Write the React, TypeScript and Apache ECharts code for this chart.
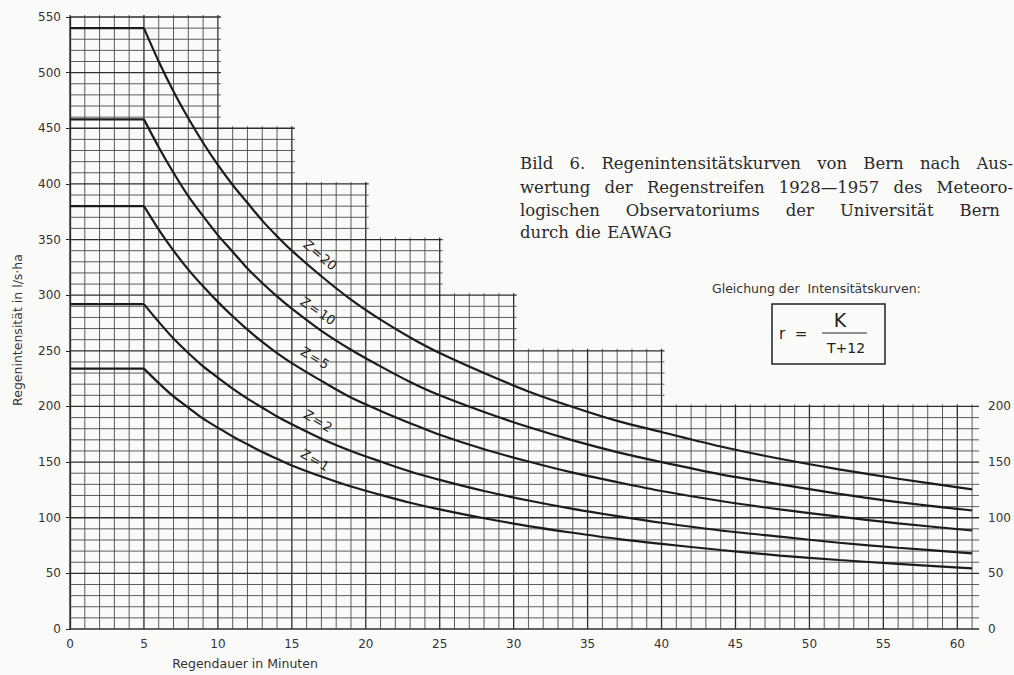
import React, { useEffect, useRef } from "react";
import * as echarts from "echarts";

// Regendauer (min) at which the curves were read
const minutes = [0, 5, 6, 7, 8, 9, 10, 11, 12, 13, 14, 15, 17, 19, 21, 23, 25, 28, 31, 34, 37, 40, 44, 48, 52, 56, 61];
// Regenintensität (l/s·ha) for each return period z
const z20 = [540, 540, 510, 483, 459, 437, 417, 399, 383, 367, 353, 340, 317, 296, 278, 262, 248, 230, 213.5, 199.5, 187, 177, 164, 153, 143.5, 135, 125.5];
const z10 = [458, 458, 433, 410, 389, 371, 354, 339, 324, 311, 299, 288, 268, 251, 236, 222, 210, 195, 181.5, 169.5, 159, 150, 139, 130, 121.5, 114, 106.5];
const z5 = [380, 380, 359, 340, 323, 308, 294, 281, 269, 258, 248, 239, 223, 208, 196, 185, 174.5, 161.5, 150.5, 140.5, 132, 124, 115, 107.5, 101, 95, 88.5];
const z2 = [292, 292, 276, 261, 248, 236, 226, 216, 207, 199, 191, 184, 171, 160, 150.5, 141.5, 134, 124, 115.5, 108, 101.5, 95.5, 88.5, 83, 77.5, 73, 68];
const z1 = [234, 234, 221, 209, 199, 189, 181, 173, 166, 159, 153, 147, 137, 128, 120.5, 113.5, 107.5, 99.5, 92.5, 86.5, 81, 76.5, 71, 66, 62, 58.5, 54.5];

const curveNames = ["Z\u200A=\u200A20", "Z\u200A=\u200A10", "Z\u200A=\u200A5", "Z\u200A=\u200A2", "Z\u200A=\u200A1"];
const curves = [z20, z10, z5, z2, z1];

// stepped grid paper: [from, to] minutes and top value
const stepFrom = [0, 10, 15, 20, 25, 30, 40];
const stepTo = [10, 15, 20, 25, 30, 40, 61];
const stepTop = [550, 450, 400, 350, 300, 250, 200];

const xMax = 61;
const yMax = 550;
const rightTicks = [0, 50, 100, 150, 200];

const captionLines = [
  "Bild 6.  Regenintensitätskurven  von Bern nach Aus-",
  "wertung der Regenstreifen 1928—1957 des Meteoro-",
  "logischen Observatoriums der Universität Bern",
  "durch die EAWAG",
];

const PAPER = "#fafaf8";
const INK = "#1c1c1c";

function buildGrid() {
  const segs: number[][] = [];
  for (let m = 0; m <= xMax; m++) {
    let top = 0;
    stepFrom.forEach((f, i) => {
      if (m >= f && m <= stepTo[i]) top = Math.max(top, stepTop[i]);
    });
    segs.push([m, 0, m, top, m % 5 === 0 ? 1 : 0, 0]);
  }
  for (let v = 0; v <= yMax; v += 10) {
    let end = 0;
    stepTop.forEach((t, i) => {
      if (t >= v) end = Math.max(end, stepTo[i]);
    });
    segs.push([0, v, end, v, v % 50 === 0 ? 1 : 0, 1]);
  }
  return segs;
}

function captionGraphics() {
  const font = "16.5px 'DejaVu Serif'";
  const canvas = document.createElement("canvas");
  const ctx = canvas.getContext("2d")!;
  ctx.font = font;
  const left = 520;
  const rights = [1013, 1013, 1000, 0];
  const ys = [163, 187, 210, 232];
  const els: any[] = [];
  captionLines.forEach((line, li) => {
    const words = line.split(/\s+/);
    const widths = words.map((w) => ctx.measureText(w).width);
    const total = widths.reduce((a, b) => a + b, 0);
    let gap = ctx.measureText(" ").width * 1.2;
    if (rights[li] > 0 && words.length > 1) {
      gap = Math.max(3, (rights[li] - left - total) / (words.length - 1));
    }
    let x = left;
    words.forEach((w, wi) => {
      els.push({
        type: "text",
        x,
        y: ys[li],
        silent: true,
        style: {
          text: w,
          font,
          fill: "#2a2a2a",
          textVerticalAlign: "middle",
          textAlign: "left",
        },
      });
      x += widths[wi] + gap;
    });
  });
  return els;
}

export default function App() {
  const ref = useRef<HTMLDivElement>(null);
  useEffect(() => {
    document.body.style.margin = "0";
    const chart = echarts.init(ref.current!, null, { renderer: "svg" });
    const labelPos = [
      [320, 255, 40],
      [318, 311, 34],
      [315, 358, 31],
      [318, 421, 31],
      [315, 460, 30],
    ];
    const sans = "'DejaVu Sans'";
    const graphic: any[] = [
      ...captionGraphics(),
      {
        type: "text",
        x: 245,
        y: 663,
        silent: true,
        style: { text: "Regendauer in Minuten", font: `12.5px ${sans}`, fill: "#333", textAlign: "center", textVerticalAlign: "middle" },
      },
      {
        type: "text",
        x: 17,
        y: 330,
        rotation: Math.PI / 2,
        silent: true,
        style: { text: "Regenintensität in l/s·ha", font: `12.5px ${sans}`, fill: "#333", textAlign: "center", textVerticalAlign: "middle" },
      },
      {
        type: "text",
        x: 712,
        y: 288,
        silent: true,
        style: { text: "Gleichung der  Intensitätskurven:", font: `12.5px ${sans}`, fill: "#333", textAlign: "left", textVerticalAlign: "middle" },
      },
      {
        type: "rect",
        shape: { x: 772, y: 304, width: 113, height: 60 },
        silent: true,
        style: { fill: PAPER, stroke: "#222", lineWidth: 1.5 },
      },
      {
        type: "text",
        x: 779,
        y: 334,
        silent: true,
        style: { text: "r  =", font: `15px ${sans}`, fill: "#222", textAlign: "left", textVerticalAlign: "middle" },
      },
      {
        type: "text",
        x: 840,
        y: 320,
        silent: true,
        style: { text: "K", font: `19px ${sans}`, fill: "#222", textAlign: "center", textVerticalAlign: "middle" },
      },
      {
        type: "line",
        shape: { x1: 822, y1: 333, x2: 867, y2: 333 },
        silent: true,
        style: { stroke: "#222", lineWidth: 1.2 },
      },
      {
        type: "text",
        x: 846,
        y: 348,
        silent: true,
        style: { text: "T+12", font: `14px ${sans}`, fill: "#222", textAlign: "center", textVerticalAlign: "middle" },
      },
      ...curveNames.map((n, i) => ({
        type: "text",
        x: labelPos[i][0],
        y: labelPos[i][1],
        rotation: (-labelPos[i][2] * Math.PI) / 180,
        silent: true,
        z: 100,
        style: { text: n, font: `13px ${sans}`, fill: "#222", textAlign: "center", textVerticalAlign: "middle" },
      })),
    ];

    const curveSeries: any[] = [];
    curves.forEach((c, i) => {
      const pts = minutes.map((m, j) => [m, c[j]]);
      // flat part (T <= 5)
      curveSeries.push({
        type: "line",
        name: curveNames[i],
        z: 5,
        symbol: "none",
        smooth: false,
        lineStyle: { color: INK, width: 2.2 },
        data: pts.filter((p) => p[0] <= 5),
      });
      // decaying part (T >= 5)
      curveSeries.push({
        type: "line",
        name: curveNames[i],
        z: 5,
        symbol: "none",
        smooth: 0.3,
        lineStyle: { color: INK, width: 2.2 },
        data: pts.filter((p) => p[0] >= 5),
      });
    });

    const option: any = {
      animation: false,
      backgroundColor: PAPER,
      grid: { left: 70, right: 40, top: 17, bottom: 46, containLabel: false },
      xAxis: {
        type: "value",
        min: 0,
        max: xMax,
        interval: 5,
        axisLine: { show: false },
        axisTick: { show: false },
        splitLine: { show: false },
        axisLabel: { showMaxLabel: false, margin: 9, color: "#333", fontFamily: "DejaVu Sans", fontSize: 12 },
      },
      yAxis: [
        {
          type: "value",
          min: 0,
          max: yMax,
          interval: 50,
          axisLine: { show: true, lineStyle: { color: "#222", width: 1.3 } },
          axisTick: { show: true, length: 4, lineStyle: { color: "#222" } },
          splitLine: { show: false },
          axisLabel: { margin: 9, color: "#333", fontFamily: "DejaVu Sans", fontSize: 12 },
        },
        {
          type: "value",
          position: "right",
          min: 0,
          max: yMax,
          interval: 50,
          axisLine: { show: false },
          axisTick: { show: false },
          splitLine: { show: false },
          axisLabel: {
            margin: 16,
            color: "#333",
            fontFamily: "DejaVu Sans",
            fontSize: 12,
            formatter: (v: number) => (rightTicks.indexOf(v) >= 0 ? String(v) : ""),
          },
        },
      ],
      graphic,
      series: [
        {
          type: "custom",
          silent: true,
          z: 1,
          encode: { x: [0, 2], y: [1, 3] },
          data: buildGrid(),
          renderItem: (params: any, api: any) => {
            const p0 = api.coord([api.value(0), api.value(1)]);
            const p1 = api.coord([api.value(2), api.value(3)]);
            const horiz = api.value(5) === 1;
            const major = api.value(4) === 1;
            const ext = horiz ? (api.value(2) >= xMax ? 7 : 3) : 0;
            const extTop = horiz ? 0 : 2;
            return {
              type: "line",
              shape: { x1: p0[0], y1: p0[1], x2: p1[0] + ext, y2: p1[1] - extTop },
              style: { stroke: major ? "#2e2e2e" : "#4a4a4a", lineWidth: major ? 1.3 : 0.9 },
            };
          },
        },
        ...curveSeries,
      ],
    };
    chart.setOption(option);
    return () => chart.dispose();
  }, []);
  return <div ref={ref} style={{ width: 1014, height: 675 }} />;
}
